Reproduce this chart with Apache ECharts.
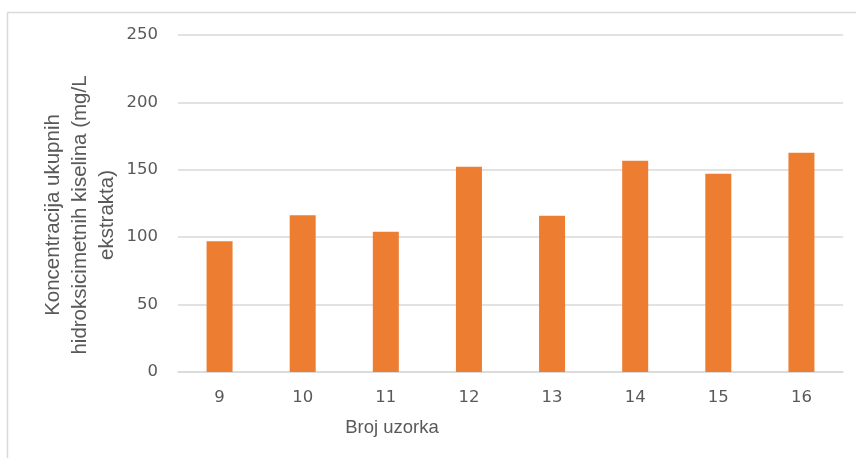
<!DOCTYPE html>
<html>
<head>
<meta charset="utf-8">
<script src="https://cdn.jsdelivr.net/npm/echarts@6/dist/echarts.min.js"></script>
<style>
  html, body { margin: 0; padding: 0; background: #fff; }
  #chart { width: 856px; height: 458px; }
</style>
</head>
<body>
<div id="chart"></div>
<script>
const categories = ['9', '10', '11', '12', '13', '14', '15', '16']
const values = [97, 116.3, 104, 152.2, 115.9, 156.7, 147, 162.6]
const yTicks = { min: 0, max: 250, interval: 50 }
const yTitle = 'Koncentracija ukupnih\nhidroksicimetnih kiselina (mg/L\nekstrakta)'
const xTitle = 'Broj uzorka'

const chart = echarts.init(document.getElementById('chart'))

const option = {
  animation: false,
  grid: {
    left: 178,
    right: 13,
    top: 35,
    bottom: 86
  },
  xAxis: {
    type: 'category',
    data: categories,
    axisLine: { lineStyle: { color: '#d9d9d9', width: 1.5 } },
    axisTick: { show: false },
    axisLabel: {
      color: '#595959',
      fontFamily: 'DejaVu Sans',
      fontSize: 16.5,
      margin: 17
    }
  },
  yAxis: {
    type: 'value',
    min: yTicks.min,
    max: yTicks.max,
    interval: yTicks.interval,
    axisLine: { show: false },
    axisTick: { show: false },
    splitLine: { lineStyle: { color: '#d9d9d9', width: 1.5 } },
    axisLabel: {
      color: '#595959',
      fontFamily: 'DejaVu Sans',
      fontSize: 16.5,
      margin: 20
    }
  },
  graphic: [
    {
      type: 'line',
      shape: { x1: 7.5, y1: 12.5, x2: 856, y2: 12.5 },
      style: { stroke: '#d9d9d9', lineWidth: 1.5 }
    },
    {
      type: 'line',
      shape: { x1: 7.5, y1: 12.5, x2: 7.5, y2: 458 },
      style: { stroke: '#d9d9d9', lineWidth: 1.5 }
    },
    {
      type: 'text',
      x: 80,
      y: 215,
      rotation: Math.PI / 2,
      style: {
        text: yTitle,
        fill: '#595959',
        fontFamily: 'Liberation Sans',
        fontSize: 20.5,
        lineHeight: 27,
        align: 'center',
        verticalAlign: 'middle'
      }
    },
    {
      type: 'text',
      x: 392,
      y: 428,
      style: {
        text: xTitle,
        fill: '#595959',
        fontFamily: 'Liberation Sans',
        fontSize: 18.5,
        align: 'center',
        verticalAlign: 'middle'
      }
    }
  ],
  series: [
    {
      type: 'bar',
      data: values,
      barWidth: 26,
      itemStyle: { color: '#ed7d31' }
    }
  ]
}

chart.setOption(option)
</script>
</body>
</html>
